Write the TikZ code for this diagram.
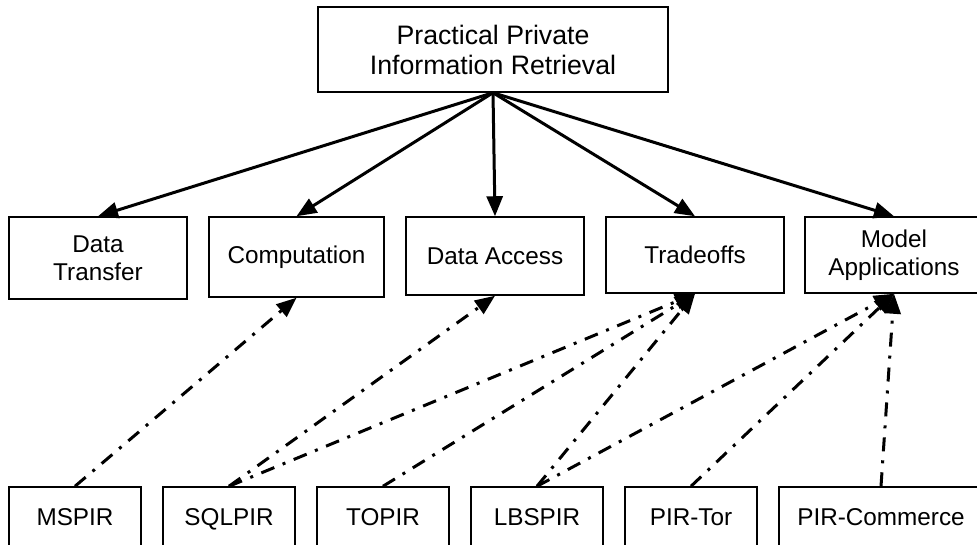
\documentclass[tikz,border=0pt]{standalone}
\usepackage{fontspec}
\setmainfont{Liberation Sans}
\usetikzlibrary{arrows.meta}

\tikzset{
    box/.style = {draw, line width = 1.5pt, inner sep = 0pt, align = center,
        font = \fontsize{24.3}{28}\selectfont},
    solidarrow/.style = {line width = 3pt, -{Triangle[length = 20pt, width = 16pt]}},
    dasharrow/.style = {line width = 3pt, dash pattern = on 14pt off 9pt on 3pt off 9pt,
        -{Triangle[length = 20pt, width = 16pt]}}
}

\begin{document}
\begin{tikzpicture}[x = 1pt, y = -1pt]
        \useasboundingbox (0,0) rectangle (977,544);
        \node[box, minimum width = 350, minimum height = 85,
            font = \fontsize{26.7}{30}\selectfont] (ppir) at (493,49.5)
            {Practical Private\\Information Retrieval};
        \foreach \name/\x/\y/\w/\h/\txt in {dt/98/258/178/82/{Data\\Transfer},
                comp/296.5/257/175/80/{Computation},
                da/495/256/178/78/{Data Access},
                trade/695/255/178/76/{Tradeoffs},
                model/894/255/178/76/{Model\\Applications}}
            \node[box, minimum width = \w, minimum height = \h] (\name) at (\x,\y) {\txt};
        \foreach \name/\x/\w/\txt in {mspir/75/132/{MSPIR},
                sqlpir/229/132/{SQLPIR},
                topir/383/132/{TOPIR},
                lbspir/537/132/{LBSPIR},
                tor/691/132/{PIR-Tor},
                comm/881/204/{PIR-Commerce}}
            \node[box, minimum width = \w, minimum height = 60,
                text height = 17.5pt, text depth = 0pt] (\name) at (\x,517) {\txt};
        \foreach \name in {dt, comp, da, trade, model}
            \draw[solidarrow] (ppir.south) -- (\name.north);
        \draw[dasharrow] (mspir.north) -- (comp.south);
        \draw[dasharrow] (sqlpir.north) -- (da.south);
        \draw[dasharrow] (sqlpir.north) -- (trade.south);
        \draw[dasharrow] (topir.north) -- (trade.south);
        \draw[dasharrow] (lbspir.north) -- (trade.south);
        \draw[dasharrow] (lbspir.north) -- (model.south);
        \draw[dasharrow] (tor.north) -- (model.south);
        \draw[dasharrow] (comm.north) -- (model.south);
    \end{tikzpicture}
\end{document}
